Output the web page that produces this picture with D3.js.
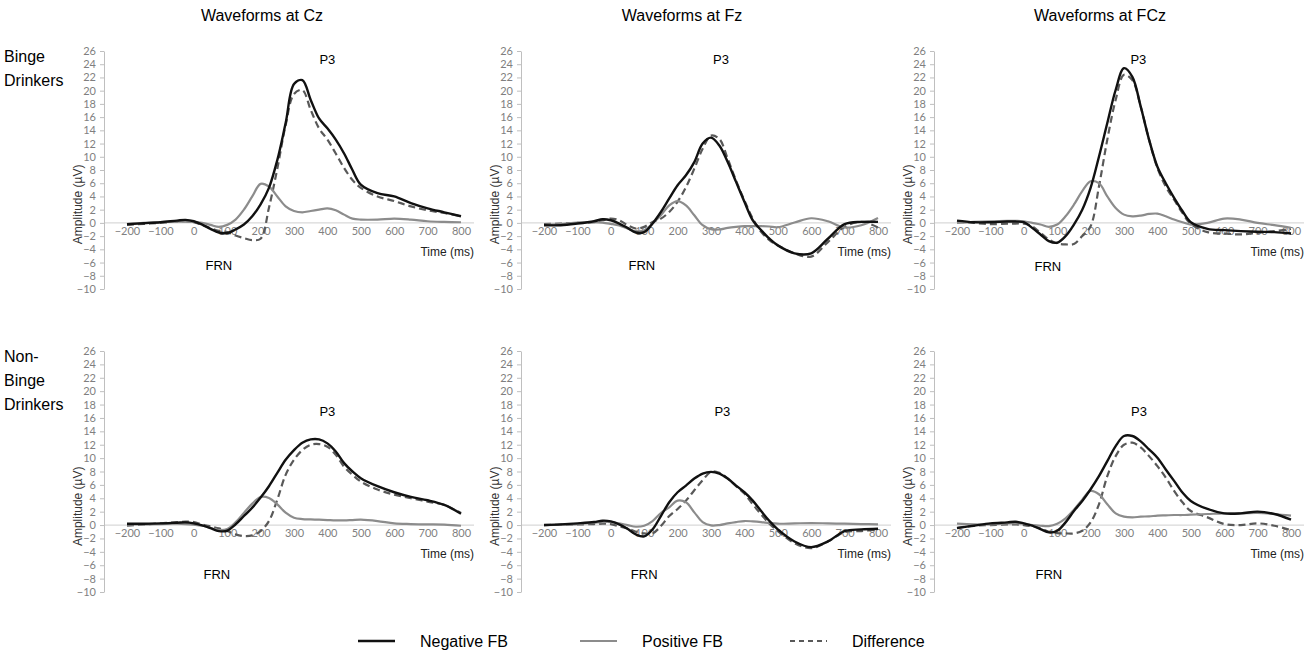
<!DOCTYPE html>
<html>
<head>
<meta charset="utf-8">
<script src="https://cdn.jsdelivr.net/npm/d3@7"></script>
<style>
body { margin: 0; background: #fff; }
text { font-family: "Liberation Sans", Arial, sans-serif; }
</style>
</head>
<body>
<svg id="chart" width="1311" height="655"></svg>
<script>
// sample times (ms)
var times = [-200,-150,-100,-50,-25,0,25,50,75,100,125,150,175,200,225,250,275,300,325,350,375,400,425,450,475,500,550,600,650,700,750,800];

var xTicks = [-200,-100,0,100,200,300,400,500,600,700,800];
var yTicks = d3.range(-10, 27, 2);

var electrodes = ['Cz', 'Fz', 'FCz'];
var groups = [['Binge', 'Drinkers'], ['Non-', 'Binge', 'Drinkers']];
var seriesNames = ['Negative FB', 'Positive FB', 'Difference'];

// Binge drinkers
var czBingeNeg  = [-0.2,-0.05,0.1,0.35,0.45,0.25,-0.25,-0.9,-1.45,-1.55,-1.0,-0.25,1.0,2.8,5.3,9.5,15.1,21.0,21.6,18.6,15.8,14.3,12.6,10.5,8.0,5.8,4.5,4.0,3.0,2.2,1.6,1.0];
var czBingePos  = [-0.2,0.0,0.1,0.2,0.2,0.15,0.0,-0.3,-0.6,-0.3,0.5,2.0,4.0,5.9,5.5,4.0,2.5,1.8,1.6,1.8,2.0,2.2,1.9,1.25,0.65,0.5,0.5,0.65,0.5,0.25,0.15,0.1];
var czBingeDiff = [-0.3,-0.15,0.0,0.2,0.25,0.1,-0.3,-0.8,-1.2,-1.4,-1.9,-2.3,-2.6,-2.4,2.3,8.2,14.8,19.5,20.1,17.1,14.3,12.6,10.5,8.3,6.5,5.3,4.0,3.3,2.5,1.9,1.5,1.0];

var fzBingeNeg  = [-0.35,-0.35,-0.1,0.25,0.55,0.4,-0.1,-0.75,-1.45,-1.4,-0.1,1.65,3.7,5.7,7.2,9.2,12.0,12.9,11.7,9.2,6.2,3.2,0.4,-1.1,-2.4,-3.4,-4.6,-4.6,-2.4,-0.2,0.15,0.15];
var fzBingePos  = [-0.3,-0.2,0.05,0.1,0.05,-0.15,-0.4,-0.85,-1.25,-1.1,-0.1,1.15,2.65,3.3,2.65,1.15,-0.35,-0.95,-1.0,-0.75,-0.6,-0.5,-0.5,-0.5,-0.55,-0.65,0.05,0.7,0.25,-0.7,-0.35,0.75];
var fzBingeDiff = [-0.2,-0.1,0.0,0.1,0.4,0.65,0.4,-0.35,-0.85,-0.6,0.15,0.65,1.65,3.2,5.4,8.2,11.2,13.2,12.7,9.7,6.4,3.4,0.65,-1.35,-2.6,-3.4,-4.6,-5.1,-2.9,-0.6,0.15,-0.7];

var fczBingeNeg  = [0.35,0.1,0.1,0.2,0.2,0.1,-0.75,-1.75,-2.75,-3.0,-2.0,-0.25,2.0,5.3,10.0,15.1,20.1,23.4,22.1,17.6,12.6,8.5,6.0,3.8,1.8,0.1,-0.9,-1.1,-1.25,-1.35,-1.4,-1.6];
var fczBingePos  = [0.0,0.15,0.25,0.3,0.3,0.25,0.0,-0.25,-0.6,-0.25,1.0,2.75,4.8,6.3,6.0,4.0,2.25,1.25,1.0,1.1,1.35,1.4,1.0,0.5,0.1,-0.25,0.0,0.65,0.5,0.0,-0.35,-0.75];
var fczBingeDiff = [0.2,0.0,-0.2,-0.1,-0.1,-0.1,-0.5,-1.5,-2.5,-3.1,-3.25,-3.2,-2.0,-0.5,5.5,12.6,18.6,22.4,21.6,17.6,12.6,8.3,5.5,3.5,1.5,-0.15,-1.4,-1.6,-1.75,-1.5,-1.25,-0.9];

// Non-binge drinkers
var czNonNeg  = [0.2,0.2,0.25,0.35,0.4,0.25,-0.05,-0.45,-0.9,-0.85,0.1,1.35,2.6,4.1,5.8,7.8,9.75,11.2,12.3,12.8,12.8,12.2,11.0,9.25,8.0,7.0,5.8,4.9,4.2,3.7,3.0,1.7];
var czNonPos  = [0.1,0.1,0.15,0.2,0.15,0.05,-0.1,-0.4,-0.75,-0.6,0.4,1.8,3.2,4.2,4.05,3.1,1.85,1.1,0.9,0.85,0.8,0.75,0.7,0.7,0.75,0.8,0.6,0.25,0.15,0.1,0.05,-0.1];
var czNonDiff = [-0.1,0.1,0.25,0.45,0.5,0.45,0.1,-0.2,-0.5,-0.9,-1.4,-1.65,-1.55,-0.9,0.6,3.8,7.5,9.75,11.2,12.0,12.1,11.7,10.5,8.7,7.5,6.5,5.3,4.55,4.0,3.5,3.0,1.8];

var fzNonNeg  = [0.0,0.1,0.25,0.45,0.65,0.55,0.1,-0.55,-1.4,-1.7,-0.65,1.35,3.4,4.9,5.9,6.95,7.7,7.95,7.7,6.95,5.9,4.9,3.65,2.1,0.6,-0.65,-2.45,-3.3,-2.45,-0.9,-0.65,-0.55];
var fzNonPos  = [0.0,0.05,0.15,0.35,0.45,0.45,0.25,0.0,-0.25,-0.1,0.6,1.8,2.65,3.65,3.4,1.9,0.45,-0.05,0.0,0.25,0.45,0.6,0.55,0.45,0.3,0.2,0.25,0.3,0.25,0.2,0.15,0.1];
var fzNonDiff = [0.0,0.05,0.1,0.15,0.2,0.15,-0.2,-0.5,-1.0,-1.25,-1.25,-0.15,1.35,2.4,3.65,5.2,6.7,7.95,7.8,6.95,5.8,4.7,3.1,1.6,0.2,-0.9,-2.7,-3.45,-2.45,-1.05,-0.9,-0.65];

var fczNonNeg  = [-0.45,-0.1,0.25,0.4,0.5,0.25,-0.1,-0.6,-1.1,-0.85,0.4,2.1,3.6,5.35,7.3,9.55,11.8,13.3,13.3,12.5,11.3,10.05,8.3,6.6,4.85,3.6,2.4,1.75,1.75,2.0,1.65,0.8];
var fczNonPos  = [0.2,0.1,0.1,0.25,0.25,0.2,0.0,-0.1,-0.15,0.2,1.0,2.3,3.8,5.1,4.6,3.1,1.75,1.25,1.15,1.25,1.3,1.4,1.45,1.5,1.5,1.55,1.65,1.75,1.75,1.8,1.65,1.4];
var fczNonDiff = [-0.4,-0.1,0.0,0.1,0.1,0.0,-0.2,-0.5,-1.0,-1.2,-1.25,-1.25,-0.85,0.4,3.1,7.3,10.3,12.0,12.3,11.6,10.3,8.8,7.1,5.1,3.4,2.1,1.15,0.15,0.0,0.25,-0.1,-0.75];

// annotation anchors in data units [time, amplitude]
var p3Pos  = [[400, 24.7], [330, 24.7], [343, 24.7], [400, 16.9], [334, 16.9], [345, 16.9]];
var frnPos = [[75, -6.4], [93, -6.4], [72, -6.6], [69, -7.4], [100, -7.4], [75, -7.4]];

var panels = [
  { row: 0, col: 0, lines: [czBingeNeg, czBingePos, czBingeDiff] },
  { row: 0, col: 1, lines: [fzBingeNeg, fzBingePos, fzBingeDiff] },
  { row: 0, col: 2, lines: [fczBingeNeg, fczBingePos, fczBingeDiff] },
  { row: 1, col: 0, lines: [czNonNeg, czNonPos, czNonDiff] },
  { row: 1, col: 1, lines: [fzNonNeg, fzNonPos, fzNonDiff] },
  { row: 1, col: 2, lines: [fczNonNeg, fczNonPos, fczNonDiff] }
];

var lineStyles = [
  { stroke: '#111', width: 2.4, dash: null },
  { stroke: '#8c8c8c', width: 2.2, dash: null },
  { stroke: '#595959', width: 2.2, dash: '7,4' }
];

var svg = d3.select('#chart');

var colX = [104, 521, 934];
var rowY = [{top: 51, bottom: 289}, {top: 351, bottom: 592}];
var titleX = [262, 682, 1100];

svg.selectAll('.title')
  .data(electrodes)
  .enter().append('text')
    .attr('class', 'title')
    .attr('x', function(d, i) { return titleX[i]; })
    .attr('y', 21)
    .style('text-anchor', 'middle')
    .style('font-size', '16px')
    .text(function(d) { return 'Waveforms at ' + d; });

groups.forEach(function(lines, r) {
  var baseY = r === 0 ? 62 : 362;
  svg.append('text')
    .attr('x', 4)
    .attr('y', baseY)
    .style('font-size', '16px')
    .selectAll('tspan')
    .data(lines)
    .enter().append('tspan')
      .attr('x', 4)
      .attr('y', function(d, i) { return baseY + i * 24; })
      .text(function(d) { return d; });
});

panels.forEach(function(p, idx) {
  var ax = colX[p.col], rr = rowY[p.row];
  var x = d3.scaleLinear().domain([-200, 800]).range([ax + 23, ax + 357]);
  var y = d3.scaleLinear().domain([-10, 26]).range([rr.bottom, rr.top]);
  var g = svg.append('g');

  // zero line
  g.append('line')
    .attr('x1', ax).attr('x2', ax + 370)
    .attr('y1', y(0)).attr('y2', y(0))
    .attr('stroke', '#d9d9d9').attr('stroke-width', 1.2);

  // y axis
  var yAxis = d3.axisLeft(y).tickValues(yTicks).tickSize(4).tickSizeOuter(0).tickPadding(4);
  var gy = g.append('g').attr('transform', 'translate(' + ax + ',0)').call(yAxis);
  gy.select('.domain').attr('stroke', '#bfbfbf');
  gy.selectAll('.tick line').attr('stroke', '#bfbfbf');
  gy.selectAll('.tick text')
    .attr('fill', '#7f7f7f')
    .style('font-size', '11px')
    .style('font-family', 'Lato, "Liberation Sans", sans-serif');

  // x tick labels sit on the zero line
  var xAxis = d3.axisBottom(x).tickValues(xTicks).tickSize(0).tickPadding(4);
  var gx = g.append('g').attr('transform', 'translate(0,' + y(0) + ')').call(xAxis);
  gx.select('.domain').remove();
  gx.selectAll('.tick text')
    .attr('fill', '#7f7f7f')
    .style('font-size', '11px')
    .style('font-family', 'Lato, "Liberation Sans", sans-serif');

  g.append('text')
    .attr('x', ax + 370)
    .attr('y', y(0) + 33)
    .style('text-anchor', 'end')
    .style('font-size', '12px')
    .attr('fill', '#222')
    .text('Time (ms)');

  g.append('text')
    .attr('transform', 'translate(' + (ax - 22) + ',' + y(2.8) + ') rotate(-90)')
    .style('text-anchor', 'middle')
    .style('font-size', '12px')
    .attr('fill', '#333')
    .text('Amplitude (\u00b5V)');

  var line = d3.line()
    .x(function(d) { return x(d[0]); })
    .y(function(d) { return y(d[1]); })
    .curve(d3.curveCatmullRom.alpha(0.5));

  // draw difference first, then positive, then negative on top
  [2, 1, 0].forEach(function(k) {
    var pts = times.map(function(t, i) { return [t, p.lines[k][i]]; });
    var st = lineStyles[k];
    g.append('path')
      .datum(pts)
      .attr('d', line)
      .attr('fill', 'none')
      .attr('stroke', st.stroke)
      .attr('stroke-width', st.width)
      .attr('stroke-dasharray', st.dash)
      .attr('stroke-linejoin', 'round');
  });

  g.append('text')
    .attr('x', x(p3Pos[idx][0])).attr('y', y(p3Pos[idx][1]))
    .attr('dy', '0.35em')
    .style('text-anchor', 'middle')
    .style('font-size', '13px')
    .text('P3');

  g.append('text')
    .attr('x', x(frnPos[idx][0])).attr('y', y(frnPos[idx][1]))
    .attr('dy', '0.35em')
    .style('text-anchor', 'middle')
    .style('font-size', '13px')
    .text('FRN');
});

// legend
var legendX = [358, 580, 790];
var legend = svg.selectAll('.legend')
  .data(seriesNames)
  .enter().append('g')
    .attr('class', 'legend')
    .attr('transform', function(d, i) { return 'translate(' + legendX[i] + ',641)'; });

legend.append('line')
  .attr('x1', 0).attr('x2', 37)
  .attr('stroke', function(d, i) { return lineStyles[i].stroke; })
  .attr('stroke-width', function(d, i) { return i === 0 ? 2.4 : 2; })
  .attr('stroke-dasharray', function(d, i) { return lineStyles[i].dash ? '5,4' : null; });

legend.append('text')
  .attr('x', 62)
  .attr('dy', '0.35em')
  .style('font-size', '16px')
  .text(function(d) { return d; });
</script>
</body>
</html>
